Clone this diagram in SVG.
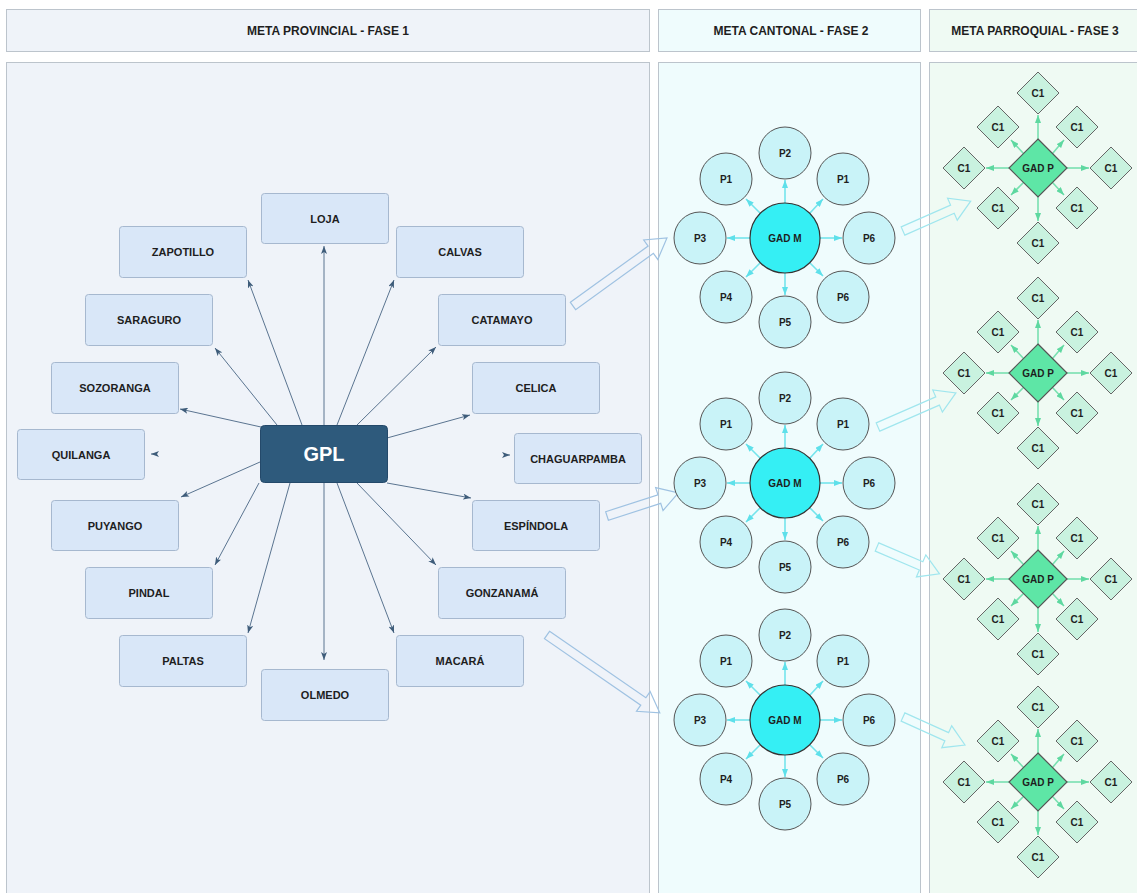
<svg xmlns="http://www.w3.org/2000/svg" width="1137" height="893" viewBox="0 0 1137 893">
<style>
text{font-family:"Liberation Sans",Arial,sans-serif;font-weight:bold;text-anchor:middle;dominant-baseline:central;fill:#1e1e1e}
.hdr{font-size:12px}
.pbox{fill:#d9e7f8;stroke:#a6b8cf;stroke-width:1}
.ptxt{font-size:11px}
.edge{stroke:#5a7490;stroke-width:1;fill:none;marker-end:url(#ah)}
.cedge{stroke:#74e4ec;stroke-width:1.6;fill:none;marker-end:url(#ahc)}
.gedge{stroke:#78e0b0;stroke-width:1.6;fill:none;marker-end:url(#ahg)}
.sat{fill:#c9f3f8;stroke:#555;stroke-width:1}
.gadm{fill:#35eff4;stroke:#333;stroke-width:1.2}
.csat{fill:#c9f2df;stroke:#666;stroke-width:1}
.gadp{fill:#5ee6a6;stroke:#555;stroke-width:1.2}
.stxt{font-size:10px}
.big1{fill:none;stroke:#9fc2e2;stroke-width:1.2}
.big2{fill:none;stroke:#a0e6ee;stroke-width:1.2}
</style>
<defs>
<marker id="ah" viewBox="0 0 8 6" refX="8" refY="3" markerWidth="8" markerHeight="6" markerUnits="userSpaceOnUse" orient="auto"><path d="M0,0 L8,3 L0,6 L2,3 z" fill="#3e5c7a"/></marker>
<marker id="ahc" viewBox="0 0 8 6" refX="8" refY="3" markerWidth="8" markerHeight="6" markerUnits="userSpaceOnUse" orient="auto"><path d="M0,0 L8,3 L0,6 z" fill="#5ee0ea"/></marker>
<marker id="ahg" viewBox="0 0 8 6" refX="8" refY="3" markerWidth="8" markerHeight="6" markerUnits="userSpaceOnUse" orient="auto"><path d="M0,0 L8,3 L0,6 z" fill="#5ed8a0"/></marker>
</defs>
<rect width="1137" height="893" fill="#ffffff"/>
<g id="panels">
<rect x="6.5" y="9.5" width="643" height="42" fill="#eff3f9" stroke="#bcc4cc"/>
<rect x="658.5" y="9.5" width="262" height="42" fill="#effcfd" stroke="#bcc4cc"/>
<rect x="929.5" y="9.5" width="215" height="42" fill="#effaf3" stroke="#bcc4cc"/>
<rect x="6.5" y="62.5" width="643" height="840" fill="#eff3f9" stroke="#bcc4cc"/>
<rect x="658.5" y="62.5" width="262" height="840" fill="#effcfd" stroke="#bcc4cc"/>
<rect x="929.5" y="62.5" width="215" height="840" fill="#effaf3" stroke="#bcc4cc"/>
<text class="hdr" x="328" y="31">META PROVINCIAL - FASE 1</text>
<text class="hdr" x="791" y="31">META CANTONAL - FASE 2</text>
<text class="hdr" x="1035" y="31">META PARROQUIAL - FASE 3</text>
</g>
<g id="connectors">
<path class="edge" d="M324,425 L324,246"/>
<path class="edge" d="M302,425 L248,280"/>
<path class="edge" d="M277,425 L215,348"/>
<path class="edge" d="M261,427 L180,409"/>
<path class="edge" d="M155,454 L151,454"/>
<path class="edge" d="M260,462 L181,497"/>
<path class="edge" d="M259,483 L215,565"/>
<path class="edge" d="M290,483 L248,633"/>
<path class="edge" d="M324,483 L324,660"/>
<path class="edge" d="M337,483 L394,633"/>
<path class="edge" d="M357,483 L436,565"/>
<path class="edge" d="M387,483 L471,498"/>
<path class="edge" d="M506,455 L510,455"/>
<path class="edge" d="M387,438 L470,415"/>
<path class="edge" d="M357,425 L436,347"/>
<path class="edge" d="M337,425 L394,280"/>
<path class="big1" d="M0,-4.5 H96 V-12 L116,0 L96,12 V4.5 H0 Z" transform="translate(573,306) rotate(-35.9)"/>
<path class="big1" d="M0,-4.5 H55 V-12 L75,0 L55,12 V4.5 H0 Z" transform="translate(607,516) rotate(-17.9)"/>
<path class="big1" d="M0,-4.5 H117 V-12 L137,0 L117,12 V4.5 H0 Z" transform="translate(547,635) rotate(34.6)"/>
<path class="big2" d="M0,-4.5 H54 V-12 L74,0 L54,12 V4.5 H0 Z" transform="translate(903,231) rotate(-23.8)"/>
<path class="big2" d="M0,-4.5 H65 V-12 L85,0 L65,12 V4.5 H0 Z" transform="translate(878,427) rotate(-23.6)"/>
<path class="big2" d="M0,-4.5 H48 V-12 L68,0 L48,12 V4.5 H0 Z" transform="translate(877,547) rotate(23.2)"/>
<path class="big2" d="M0,-4.5 H48 V-12 L68,0 L48,12 V4.5 H0 Z" transform="translate(903,717) rotate(24.3)"/>
<g transform="translate(785,238)"><path class="cedge" d="M0,-35 L0,-58"/><path class="cedge" d="M-25,-25 L-39,-39"/><path class="cedge" d="M25,-25 L38,-39"/><path class="cedge" d="M-25,25 L-39,39"/><path class="cedge" d="M25,25 L38,38"/><path class="cedge" d="M0,35 L0,57"/><path class="cedge" d="M-35,0 L-58,0"/><path class="cedge" d="M35,0 L57,0"/></g>
<g transform="translate(785,483)"><path class="cedge" d="M0,-35 L0,-58"/><path class="cedge" d="M-25,-25 L-39,-39"/><path class="cedge" d="M25,-25 L38,-39"/><path class="cedge" d="M-25,25 L-39,39"/><path class="cedge" d="M25,25 L38,38"/><path class="cedge" d="M0,35 L0,57"/><path class="cedge" d="M-35,0 L-58,0"/><path class="cedge" d="M35,0 L57,0"/></g>
<g transform="translate(785,720)"><path class="cedge" d="M0,-35 L0,-58"/><path class="cedge" d="M-25,-25 L-39,-39"/><path class="cedge" d="M25,-25 L38,-39"/><path class="cedge" d="M-25,25 L-39,39"/><path class="cedge" d="M25,25 L38,38"/><path class="cedge" d="M0,35 L0,57"/><path class="cedge" d="M-35,0 L-58,0"/><path class="cedge" d="M35,0 L57,0"/></g>
<g transform="translate(1038,168)"><path class="gedge" d="M0,-29 L0,-53"/><path class="gedge" d="M0,29 L0,53"/><path class="gedge" d="M-29,0 L-52,0"/><path class="gedge" d="M29,0 L51,0"/><path class="gedge" d="M-14.5,-14.5 L-27,-28"/><path class="gedge" d="M14.5,-14.5 L26,-28"/><path class="gedge" d="M-14.5,14.5 L-27,27"/><path class="gedge" d="M14.5,14.5 L26,27"/></g>
<g transform="translate(1038,373)"><path class="gedge" d="M0,-29 L0,-53"/><path class="gedge" d="M0,29 L0,53"/><path class="gedge" d="M-29,0 L-52,0"/><path class="gedge" d="M29,0 L51,0"/><path class="gedge" d="M-14.5,-14.5 L-27,-28"/><path class="gedge" d="M14.5,-14.5 L26,-28"/><path class="gedge" d="M-14.5,14.5 L-27,27"/><path class="gedge" d="M14.5,14.5 L26,27"/></g>
<g transform="translate(1038,579)"><path class="gedge" d="M0,-29 L0,-53"/><path class="gedge" d="M0,29 L0,53"/><path class="gedge" d="M-29,0 L-52,0"/><path class="gedge" d="M29,0 L51,0"/><path class="gedge" d="M-14.5,-14.5 L-27,-28"/><path class="gedge" d="M14.5,-14.5 L26,-28"/><path class="gedge" d="M-14.5,14.5 L-27,27"/><path class="gedge" d="M14.5,14.5 L26,27"/></g>
<g transform="translate(1038,782)"><path class="gedge" d="M0,-29 L0,-53"/><path class="gedge" d="M0,29 L0,53"/><path class="gedge" d="M-29,0 L-52,0"/><path class="gedge" d="M29,0 L51,0"/><path class="gedge" d="M-14.5,-14.5 L-27,-28"/><path class="gedge" d="M14.5,-14.5 L26,-28"/><path class="gedge" d="M-14.5,14.5 L-27,27"/><path class="gedge" d="M14.5,14.5 L26,27"/></g>
</g>
<g id="gpl"><rect x="260.5" y="425.5" width="127" height="57" rx="4" fill="#2e5a7c" stroke="#24496a"/><text x="324" y="454" style="font-size:20px;fill:#ffffff">GPL</text></g>
<g id="loja"><rect class="pbox" x="261.5" y="193.5" width="127" height="50" rx="3"/><text class="ptxt" x="325" y="218.5">LOJA</text></g>
<g id="zapotillo"><rect class="pbox" x="119.5" y="226.5" width="127" height="51" rx="3"/><text class="ptxt" x="183" y="252">ZAPOTILLO</text></g>
<g id="calvas"><rect class="pbox" x="396.5" y="226.5" width="127" height="51" rx="3"/><text class="ptxt" x="460" y="252">CALVAS</text></g>
<g id="saraguro"><rect class="pbox" x="85.5" y="294.5" width="127" height="51" rx="3"/><text class="ptxt" x="149" y="320">SARAGURO</text></g>
<g id="catamayo"><rect class="pbox" x="438.5" y="294.5" width="127" height="51" rx="3"/><text class="ptxt" x="502" y="320">CATAMAYO</text></g>
<g id="sozoranga"><rect class="pbox" x="51.5" y="362.5" width="127" height="51" rx="3"/><text class="ptxt" x="115" y="388">SOZORANGA</text></g>
<g id="celica"><rect class="pbox" x="472.5" y="362.5" width="127" height="51" rx="3"/><text class="ptxt" x="536" y="388">CELICA</text></g>
<g id="quilanga"><rect class="pbox" x="17.5" y="429.5" width="127" height="50" rx="3"/><text class="ptxt" x="81" y="454.5">QUILANGA</text></g>
<g id="chaguarpamba"><rect class="pbox" x="514.5" y="433.5" width="127" height="50" rx="3"/><text class="ptxt" x="578" y="458.5">CHAGUARPAMBA</text></g>
<g id="puyango"><rect class="pbox" x="51.5" y="500.5" width="127" height="50" rx="3"/><text class="ptxt" x="115" y="525.5">PUYANGO</text></g>
<g id="espindola"><rect class="pbox" x="472.5" y="500.5" width="127" height="50" rx="3"/><text class="ptxt" x="536" y="525.5">ESPÍNDOLA</text></g>
<g id="pindal"><rect class="pbox" x="85.5" y="567.5" width="127" height="51" rx="3"/><text class="ptxt" x="149" y="593">PINDAL</text></g>
<g id="gonzanama"><rect class="pbox" x="438.5" y="567.5" width="127" height="51" rx="3"/><text class="ptxt" x="502" y="593">GONZANAMÁ</text></g>
<g id="paltas"><rect class="pbox" x="119.5" y="635.5" width="127" height="51" rx="3"/><text class="ptxt" x="183" y="661">PALTAS</text></g>
<g id="macara"><rect class="pbox" x="396.5" y="635.5" width="127" height="51" rx="3"/><text class="ptxt" x="460" y="661">MACARÁ</text></g>
<g id="olmedo"><rect class="pbox" x="261.5" y="669.5" width="127" height="51" rx="3"/><text class="ptxt" x="325" y="695">OLMEDO</text></g>
<g id="gadm-cluster-1" transform="translate(785,238)">
<g id="gadm1"><circle class="gadm" r="35"/><text class="stxt">GAD M</text></g>
<g id="gadm1-p2"><circle class="sat" cx="0" cy="-85" r="26"/><text class="stxt" x="0" y="-85">P2</text></g>
<g id="gadm1-p1a"><circle class="sat" cx="-59" cy="-59" r="26"/><text class="stxt" x="-59" y="-59">P1</text></g>
<g id="gadm1-p1b"><circle class="sat" cx="58" cy="-59" r="26"/><text class="stxt" x="58" y="-59">P1</text></g>
<g id="gadm1-p3"><circle class="sat" cx="-85" cy="0" r="26"/><text class="stxt" x="-85" y="0">P3</text></g>
<g id="gadm1-p6a"><circle class="sat" cx="84" cy="0" r="26"/><text class="stxt" x="84" y="0">P6</text></g>
<g id="gadm1-p4"><circle class="sat" cx="-59" cy="59" r="26"/><text class="stxt" x="-59" y="59">P4</text></g>
<g id="gadm1-p6b"><circle class="sat" cx="58" cy="59" r="26"/><text class="stxt" x="58" y="59">P6</text></g>
<g id="gadm1-p5"><circle class="sat" cx="0" cy="84" r="26"/><text class="stxt" x="0" y="84">P5</text></g>
</g>
<g id="gadm-cluster-2" transform="translate(785,483)">
<g id="gadm2"><circle class="gadm" r="35"/><text class="stxt">GAD M</text></g>
<g id="gadm2-p2"><circle class="sat" cx="0" cy="-85" r="26"/><text class="stxt" x="0" y="-85">P2</text></g>
<g id="gadm2-p1a"><circle class="sat" cx="-59" cy="-59" r="26"/><text class="stxt" x="-59" y="-59">P1</text></g>
<g id="gadm2-p1b"><circle class="sat" cx="58" cy="-59" r="26"/><text class="stxt" x="58" y="-59">P1</text></g>
<g id="gadm2-p3"><circle class="sat" cx="-85" cy="0" r="26"/><text class="stxt" x="-85" y="0">P3</text></g>
<g id="gadm2-p6a"><circle class="sat" cx="84" cy="0" r="26"/><text class="stxt" x="84" y="0">P6</text></g>
<g id="gadm2-p4"><circle class="sat" cx="-59" cy="59" r="26"/><text class="stxt" x="-59" y="59">P4</text></g>
<g id="gadm2-p6b"><circle class="sat" cx="58" cy="59" r="26"/><text class="stxt" x="58" y="59">P6</text></g>
<g id="gadm2-p5"><circle class="sat" cx="0" cy="84" r="26"/><text class="stxt" x="0" y="84">P5</text></g>
</g>
<g id="gadm-cluster-3" transform="translate(785,720)">
<g id="gadm3"><circle class="gadm" r="35"/><text class="stxt">GAD M</text></g>
<g id="gadm3-p2"><circle class="sat" cx="0" cy="-85" r="26"/><text class="stxt" x="0" y="-85">P2</text></g>
<g id="gadm3-p1a"><circle class="sat" cx="-59" cy="-59" r="26"/><text class="stxt" x="-59" y="-59">P1</text></g>
<g id="gadm3-p1b"><circle class="sat" cx="58" cy="-59" r="26"/><text class="stxt" x="58" y="-59">P1</text></g>
<g id="gadm3-p3"><circle class="sat" cx="-85" cy="0" r="26"/><text class="stxt" x="-85" y="0">P3</text></g>
<g id="gadm3-p6a"><circle class="sat" cx="84" cy="0" r="26"/><text class="stxt" x="84" y="0">P6</text></g>
<g id="gadm3-p4"><circle class="sat" cx="-59" cy="59" r="26"/><text class="stxt" x="-59" y="59">P4</text></g>
<g id="gadm3-p6b"><circle class="sat" cx="58" cy="59" r="26"/><text class="stxt" x="58" y="59">P6</text></g>
<g id="gadm3-p5"><circle class="sat" cx="0" cy="84" r="26"/><text class="stxt" x="0" y="84">P5</text></g>
</g>
<g id="gadp-cluster-1" transform="translate(1038,168)">
<g id="gadp1"><polygon class="gadp" points="0,-29 29,0 0,29 -29,0"/><text class="stxt">GAD P</text></g>
<g id="gadp1-c1"><polygon class="csat" points="0,-96 21,-75 0,-54 -21,-75"/><text class="stxt" y="-75">C1</text></g>
<g id="gadp1-c2"><polygon class="csat" points="-40,-62 -19,-41 -40,-20 -61,-41"/><text class="stxt" x="-40" y="-41">C1</text></g>
<g id="gadp1-c3"><polygon class="csat" points="39,-62 60,-41 39,-20 18,-41"/><text class="stxt" x="39" y="-41">C1</text></g>
<g id="gadp1-c4"><polygon class="csat" points="-74,-21 -53,0 -74,21 -95,0"/><text class="stxt" x="-74">C1</text></g>
<g id="gadp1-c5"><polygon class="csat" points="73,-21 94,0 73,21 52,0"/><text class="stxt" x="73">C1</text></g>
<g id="gadp1-c6"><polygon class="csat" points="-40,19 -19,40 -40,61 -61,40"/><text class="stxt" x="-40" y="40">C1</text></g>
<g id="gadp1-c7"><polygon class="csat" points="39,19 60,40 39,61 18,40"/><text class="stxt" x="39" y="40">C1</text></g>
<g id="gadp1-c8"><polygon class="csat" points="0,54 21,75 0,96 -21,75"/><text class="stxt" y="75">C1</text></g>
</g>
<g id="gadp-cluster-2" transform="translate(1038,373)">
<g id="gadp2"><polygon class="gadp" points="0,-29 29,0 0,29 -29,0"/><text class="stxt">GAD P</text></g>
<g id="gadp2-c1"><polygon class="csat" points="0,-96 21,-75 0,-54 -21,-75"/><text class="stxt" y="-75">C1</text></g>
<g id="gadp2-c2"><polygon class="csat" points="-40,-62 -19,-41 -40,-20 -61,-41"/><text class="stxt" x="-40" y="-41">C1</text></g>
<g id="gadp2-c3"><polygon class="csat" points="39,-62 60,-41 39,-20 18,-41"/><text class="stxt" x="39" y="-41">C1</text></g>
<g id="gadp2-c4"><polygon class="csat" points="-74,-21 -53,0 -74,21 -95,0"/><text class="stxt" x="-74">C1</text></g>
<g id="gadp2-c5"><polygon class="csat" points="73,-21 94,0 73,21 52,0"/><text class="stxt" x="73">C1</text></g>
<g id="gadp2-c6"><polygon class="csat" points="-40,19 -19,40 -40,61 -61,40"/><text class="stxt" x="-40" y="40">C1</text></g>
<g id="gadp2-c7"><polygon class="csat" points="39,19 60,40 39,61 18,40"/><text class="stxt" x="39" y="40">C1</text></g>
<g id="gadp2-c8"><polygon class="csat" points="0,54 21,75 0,96 -21,75"/><text class="stxt" y="75">C1</text></g>
</g>
<g id="gadp-cluster-3" transform="translate(1038,579)">
<g id="gadp3"><polygon class="gadp" points="0,-29 29,0 0,29 -29,0"/><text class="stxt">GAD P</text></g>
<g id="gadp3-c1"><polygon class="csat" points="0,-96 21,-75 0,-54 -21,-75"/><text class="stxt" y="-75">C1</text></g>
<g id="gadp3-c2"><polygon class="csat" points="-40,-62 -19,-41 -40,-20 -61,-41"/><text class="stxt" x="-40" y="-41">C1</text></g>
<g id="gadp3-c3"><polygon class="csat" points="39,-62 60,-41 39,-20 18,-41"/><text class="stxt" x="39" y="-41">C1</text></g>
<g id="gadp3-c4"><polygon class="csat" points="-74,-21 -53,0 -74,21 -95,0"/><text class="stxt" x="-74">C1</text></g>
<g id="gadp3-c5"><polygon class="csat" points="73,-21 94,0 73,21 52,0"/><text class="stxt" x="73">C1</text></g>
<g id="gadp3-c6"><polygon class="csat" points="-40,19 -19,40 -40,61 -61,40"/><text class="stxt" x="-40" y="40">C1</text></g>
<g id="gadp3-c7"><polygon class="csat" points="39,19 60,40 39,61 18,40"/><text class="stxt" x="39" y="40">C1</text></g>
<g id="gadp3-c8"><polygon class="csat" points="0,54 21,75 0,96 -21,75"/><text class="stxt" y="75">C1</text></g>
</g>
<g id="gadp-cluster-4" transform="translate(1038,782)">
<g id="gadp4"><polygon class="gadp" points="0,-29 29,0 0,29 -29,0"/><text class="stxt">GAD P</text></g>
<g id="gadp4-c1"><polygon class="csat" points="0,-96 21,-75 0,-54 -21,-75"/><text class="stxt" y="-75">C1</text></g>
<g id="gadp4-c2"><polygon class="csat" points="-40,-62 -19,-41 -40,-20 -61,-41"/><text class="stxt" x="-40" y="-41">C1</text></g>
<g id="gadp4-c3"><polygon class="csat" points="39,-62 60,-41 39,-20 18,-41"/><text class="stxt" x="39" y="-41">C1</text></g>
<g id="gadp4-c4"><polygon class="csat" points="-74,-21 -53,0 -74,21 -95,0"/><text class="stxt" x="-74">C1</text></g>
<g id="gadp4-c5"><polygon class="csat" points="73,-21 94,0 73,21 52,0"/><text class="stxt" x="73">C1</text></g>
<g id="gadp4-c6"><polygon class="csat" points="-40,19 -19,40 -40,61 -61,40"/><text class="stxt" x="-40" y="40">C1</text></g>
<g id="gadp4-c7"><polygon class="csat" points="39,19 60,40 39,61 18,40"/><text class="stxt" x="39" y="40">C1</text></g>
<g id="gadp4-c8"><polygon class="csat" points="0,54 21,75 0,96 -21,75"/><text class="stxt" y="75">C1</text></g>
</g>
</svg>
